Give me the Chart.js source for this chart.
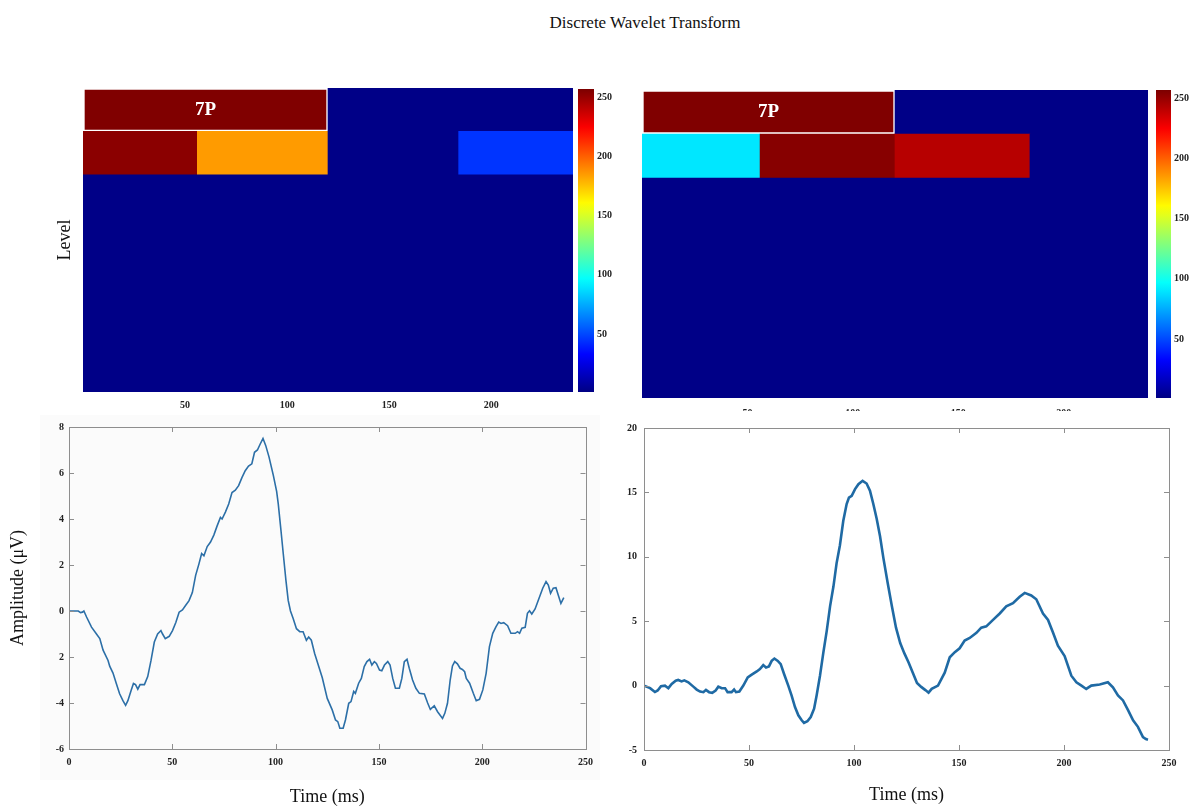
<!DOCTYPE html>
<html>
<head>
<meta charset="utf-8">
<title>Discrete Wavelet Transform</title>
<script src="https://cdn.jsdelivr.net/npm/chart.js@4.4.1/dist/chart.umd.min.js"></script>
<style>
  body { margin: 0; background: #fff; width: 1194px; height: 810px; position: relative; overflow: hidden; font-family: "Liberation Serif", "Times New Roman", serif; }
  canvas { position: absolute; }
  #title { position: absolute; left: 445px; width: 400px; top: 13px; text-align: center; font-size: 17px; color: #111; }
</style>
</head>
<body>
<div id="title">Discrete Wavelet Transform</div>
<canvas id="heatLeft" width="536" height="336" style="left:40px;top:80px"></canvas>
<canvas id="barLeft" width="44" height="336" style="left:576px;top:80px"></canvas>
<canvas id="heatRight" width="552" height="331" style="left:600px;top:80px"></canvas>
<canvas id="barRight" width="42" height="336" style="left:1152px;top:80px"></canvas>
<canvas id="waveLeft" width="600" height="395" style="left:0px;top:415px"></canvas>
<canvas id="waveRight" width="594" height="395" style="left:600px;top:415px"></canvas>
<script>
// scalogram cells (same layout for both panels), values on the 1..256 colour index
const levels = ['1', '2', '3', '4', '5', '6', '7'];
const cellLevel = ['1', '1', '2', '2', '2', '2', '3', '4', '5', '6', '7'];
const cellStart = [0, 120, 0, 56, 120, 184, 0, 0, 0, 0, 0];
const cellEnd = [120, 240, 56, 120, 184, 240, 240, 240, 240, 240, 240];
const leftValues = [256, 2, 253, 185, 2, 45, 2, 2, 2, 2, 2];
const rightValues = [256, 2, 90, 254, 242, 2, 2, 2, 2, 2, 2];
const peakLabel = '7P';
const timeTicks = [50, 100, 150, 200];
const colorTicks = [50, 100, 150, 200, 250];

// ERP waveforms
const leftTime = [0, 2, 4.5, 5.6, 6.5, 7.2, 8.5, 10.9, 13.3, 14.9, 16.5, 18.9, 19.7, 21.3, 22.9, 24.5, 26.1, 27.4, 28.5, 30.1,
  31.2, 32.2, 33.3, 34.4, 36.5, 38.1, 39.7, 41.3, 42.9, 44.5, 45.3, 46.6, 48.5, 50.1, 51.7, 53.3, 54.9, 56.5, 58.1, 59.7,
  61.3, 62.9, 64.2, 65.3, 66.9, 68.5, 70.1, 71.7, 73.3, 74.1, 75.7, 77.3, 78.9, 80.5, 82.1, 83.7, 85.3, 86.9, 88.5, 89.8,
  91.2, 92.5, 93.9, 95.2, 96.8, 98.9, 100.5, 101.3, 102.6, 103.7, 105, 106.1, 107.2, 108.5, 110.1, 111.7, 113.3, 114.9, 116, 117.3,
  118.9, 120.5, 122.6, 125, 127.4, 129, 130.1, 131.1, 132.7, 133.8, 135.4, 136.5, 137.8, 138.6, 140.2, 141.5, 142.9, 144.2, 145.5, 146.6,
  147.8, 148.8, 150.3, 151.4, 152.7, 154.3, 155.4, 156.7, 158, 159.9, 161.1, 162.3, 163.6, 164.7, 166.3, 167.9, 169.6, 172, 173.6, 174.9,
  176.8, 178.4, 180.8, 181.9, 183.2, 184.5, 185.6, 186.7, 188, 189.3, 190.4, 191.5, 192.3, 193.9, 195.7, 197.1, 198.7, 200.3, 201.9, 203.5,
  205.1, 206.7, 208, 209.1, 210.4, 212.3, 213.9, 216, 217.1, 218.1, 219.2, 220.8, 221.9, 222.9, 224, 225.6, 227.2, 229.3, 230.9, 232,
  233.1, 234.4, 235.7, 236.8, 238.1, 239.5];
const leftAmp = [0, 0, 0, -0.07, -0.05, 0, -0.26, -0.7, -1, -1.2, -1.7, -2.15, -2.4, -2.7, -3.15, -3.6, -3.9, -4.1, -3.9, -3.45,
  -3.15, -3.2, -3.4, -3.2, -3.2, -2.85, -2.15, -1.35, -1, -0.85, -1, -1.2, -1.1, -0.85, -0.5, -0.05, 0.05, 0.25, 0.45, 0.8,
  1.55, 2.05, 2.5, 2.4, 2.8, 3, 3.3, 3.7, 4.07, 4, 4.3, 4.65, 5.15, 5.25, 5.45, 5.8, 6.1, 6.3, 6.4, 6.9,
  7, 7.25, 7.5, 7.2, 6.7, 5.9, 5.2, 4.65, 3.5, 2.5, 1.33, 0.46, 0, -0.33, -0.77, -0.9, -0.9, -1.27, -1.13, -1.27,
  -1.85, -2.3, -2.9, -3.8, -4.3, -4.74, -4.81, -5.1, -5.1, -4.74, -4.01, -3.94, -3.5, -3.58, -3.14, -2.93, -2.42, -2.2, -2.1, -2.35,
  -2.2, -2.28, -2.57, -2.6, -2.35, -2.2, -2.35, -2.93, -3.36, -3.36, -2.93, -2.2, -2.1, -2.49, -3, -3.36, -3.58, -3.61, -4, -4.28,
  -4.12, -4.38, -4.67, -4.45, -4.01, -3, -2.39, -2.2, -2.3, -2.49, -2.54, -2.64, -2.93, -3.14, -3.58, -3.9, -3.84, -3.43, -2.71, -1.55,
  -0.97, -0.68, -0.48, -0.54, -0.51, -0.64, -0.97, -0.97, -0.9, -0.97, -0.75, -0.71, -0.1, 0.01, -0.13, 0.09, 0.48, 0.99, 1.28, 1.13,
  0.77, 0.99, 1.01, 0.7, 0.33, 0.58];
const rightTime = [0, 2.9, 5.2, 6.5, 8.1, 10, 11.6, 13.2, 15.1, 16.3, 17.9, 19.2, 21.1, 23.5, 25.1, 26.7, 28.3, 29.5, 31, 32.5,
  34.1, 35.4, 37, 38.6, 39.8, 41.7, 42.9, 43.8, 45.4, 47.3, 49.4, 51.3, 53.7, 55.2, 56.8, 58.1, 59.5, 60.8, 62.1, 63.7,
  65.1, 66.7, 68.7, 70.3, 71.9, 73.5, 75.1, 76.2, 77.8, 79.4, 81, 82.2, 83.8, 85.4, 87, 88.6, 90.2, 91.7, 93.3, 94.9,
  96.5, 97.6, 98.9, 100.5, 102.1, 104.1, 106, 107.6, 109.2, 110.8, 112.4, 114, 116, 118, 120, 122, 124, 126, 128, 130,
  132, 134, 135.5, 137, 140, 143.2, 145.6, 148, 150.3, 152.7, 155.1, 158.3, 160.6, 163, 166.2, 169.4, 172.5, 175.7, 178.9, 181.3,
  184.4, 186.8, 190, 192.4, 194.8, 197.1, 200.3, 203.5, 205.9, 208.3, 210.6, 213, 217, 220.9, 223.3, 225.7, 228.1, 230.5, 232.9, 235.2,
  237.6, 239, 240];
const rightAmp = [0, -0.2, -0.5, -0.38, -0.05, 0, -0.2, 0.13, 0.38, 0.44, 0.33, 0.41, 0.26, -0.08, -0.31, -0.46, -0.51, -0.33, -0.51, -0.56,
  -0.38, -0.08, -0.2, -0.2, -0.51, -0.51, -0.31, -0.51, -0.46, 0, 0.64, 0.85, 1.1, 1.28, 1.59, 1.41, 1.49, 1.92, 2.1, 1.92,
  1.67, 0.9, 0, -0.77, -1.67, -2.31, -2.69, -2.9, -2.77, -2.44, -1.79, -0.77, 0.77, 2.56, 4.23, 6.15, 7.69, 9.49, 10.9, 12.8,
  14.1, 14.6, 14.74, 15.26, 15.64, 15.9, 15.69, 15.13, 14.1, 12.95, 11.6, 9.9, 8, 6.2, 4.5, 3.3, 2.5, 1.8, 1, 0.2,
  -0.1, -0.35, -0.55, -0.25, 0, 1, 2.2, 2.6, 2.9, 3.5, 3.7, 4.1, 4.5, 4.6, 5.1, 5.6, 6.15, 6.4, 6.9, 7.2,
  7, 6.7, 5.6, 5.1, 4.1, 3.1, 2.3, 0.77, 0.26, 0, -0.26, 0, 0.08, 0.26, -0.13, -0.77, -1.15, -1.9, -2.7, -3.2,
  -4, -4.15, -4.2];
const timeAxisTicks = [0, 50, 100, 150, 200, 250];
const ampTicks = [-6, -4, -2, 0, 2, 4, 6, 8];
const ampTickLabels = ['-6', '-4', '2', '0', '2', '4', '6', '8'];
const rightAmpTicks = [-5, 0, 5, 10, 15, 20];

Chart.defaults.font.family = '"Liberation Serif", "Times New Roman", serif';
Chart.defaults.color = '#222';
Chart.defaults.animation = false;
Chart.defaults.plugins.legend.display = false;
Chart.defaults.plugins.tooltip.enabled = false;

const tickFont = { size: 10, weight: 'bold' };
const noGrid = { display: false, drawTicks: false };

// MATLAB jet colormap
function jet(v) {
  const t = v / 256;
  const c = x => Math.round(255 * Math.max(0, Math.min(1, 1.5 - Math.abs(x))));
  return 'rgb(' + c(4 * t - 3) + ',' + c(4 * t - 2) + ',' + c(4 * t - 1) + ')';
}

const cellText = {
  id: 'cellText',
  afterDatasetsDraw(chart) {
    const el = chart.getDatasetMeta(0).data[0];
    const p = el.getCenterPoint();
    const ctx = chart.ctx;
    ctx.save();
    ctx.fillStyle = '#fff';
    ctx.font = 'bold 19px "Liberation Serif", serif';
    ctx.textAlign = 'center';
    ctx.textBaseline = 'middle';
    ctx.fillText(peakLabel, p.x, p.y);
    ctx.restore();
  }
};

function heatmap(id, values, pad, yWidth, xHeight, labelPad, showLevel) {
  new Chart(document.getElementById(id), {
    type: 'bar',
    data: {
      labels: levels,
      datasets: [{
        data: cellLevel.map((lv, i) => ({ y: lv, x: [cellStart[i], cellEnd[i]] })),
        backgroundColor: values.map(jet),
        borderColor: '#fff',
        borderWidth: ctx => ctx.dataIndex === 0 ? 2 : 0,
        borderSkipped: false,
        barPercentage: 1,
        categoryPercentage: 1
      }]
    },
    options: {
      responsive: false,
      indexAxis: 'y',
      layout: { padding: pad },
      scales: {
        x: {
          type: 'linear', min: 0, max: 240,
          grid: noGrid, border: { display: false },
          ticks: { font: tickFont, padding: labelPad },
          afterBuildTicks: s => { s.ticks = timeTicks.map(v => ({ value: v })); },
          afterFit: s => { s.height = xHeight; }
        },
        y: {
          type: 'category',
          grid: noGrid, border: { display: false },
          ticks: { display: false },
          title: { display: showLevel, text: 'Level', font: { size: 18 }, color: '#111', padding: { top: 14 } },
          afterFit: s => { s.width = yWidth; }
        }
      }
    },
    plugins: [cellText]
  });
}

function colorbar(id, pad, yWidth) {
  new Chart(document.getElementById(id), {
    type: 'bar',
    data: {
      labels: ['c'],
      datasets: [{
        data: [[1, 257]],
        backgroundColor: ctx => {
          const a = ctx.chart.chartArea;
          if (!a) return jet(128);
          const g = ctx.chart.ctx.createLinearGradient(0, a.bottom, 0, a.top);
          for (let i = 0; i <= 32; i++) g.addColorStop(i / 32, jet(1 + 256 * i / 32));
          return g;
        },
        barPercentage: 1,
        categoryPercentage: 1
      }]
    },
    options: {
      responsive: false,
      layout: { padding: pad },
      scales: {
        x: { display: false },
        y: {
          position: 'right', min: 1, max: 257,
          grid: noGrid, border: { display: false },
          ticks: { font: { size: 10, weight: 'bold' }, padding: 3 },
          afterBuildTicks: s => { s.ticks = colorTicks.map(v => ({ value: v })); },
          afterFit: s => { s.width = yWidth; }
        }
      }
    }
  });
}

const boxTicks = {
  id: 'boxTicks',
  beforeDraw(chart, args, opts) {
    if (!opts.shade) return;
    const ctx = chart.ctx;
    ctx.save();
    ctx.fillStyle = '#fbfbfb';
    ctx.fillRect(40, 0, chart.width - 40, chart.height - 30);
    ctx.restore();
  },
  afterDraw(chart) {
    const { ctx, chartArea: a, scales: { x, y } } = chart;
    const len = 5;
    ctx.save();
    ctx.strokeStyle = '#8e8e8e';
    ctx.lineWidth = 1;
    ctx.beginPath();
    x.ticks.forEach(t => {
      const px = Math.round(x.getPixelForValue(t.value)) + 0.5;
      ctx.moveTo(px, a.bottom); ctx.lineTo(px, a.bottom - len);
      ctx.moveTo(px, a.top); ctx.lineTo(px, a.top + len);
    });
    y.ticks.forEach(t => {
      const py = Math.round(y.getPixelForValue(t.value)) + 0.5;
      ctx.moveTo(a.left, py); ctx.lineTo(a.left + len, py);
      ctx.moveTo(a.right, py); ctx.lineTo(a.right - len, py);
    });
    ctx.stroke();
    ctx.strokeRect(Math.round(a.left) + 0.5, Math.round(a.top) + 0.5, Math.round(a.width), Math.round(a.height));
    ctx.restore();
  }
};

function wave(id, time, amp, o) {
  new Chart(document.getElementById(id), {
    type: 'line',
    data: {
      datasets: [{
        data: time.map((t, i) => ({ x: t, y: amp[i] })),
        borderColor: o.color,
        borderWidth: o.width,
        pointRadius: 0,
        tension: 0,
        fill: false
      }]
    },
    options: {
      responsive: false,
      layout: { padding: o.pad },
      plugins: { boxTicks: { shade: o.shade } },
      scales: {
        x: {
          type: 'linear', min: 0, max: 250,
          grid: noGrid, border: { display: false },
          ticks: { font: tickFont, padding: 7, maxRotation: 0 },
          afterBuildTicks: s => { s.ticks = timeAxisTicks.map(v => ({ value: v })); },
          title: { display: true, text: 'Time (ms)', font: { size: 18 }, color: '#111', padding: { bottom: o.xTitlePad } },
          afterFit: s => { s.height = o.xHeight; }
        },
        y: {
          type: 'linear', min: o.yMin, max: o.yMax,
          grid: noGrid, border: { display: false },
          ticks: { font: tickFont, padding: o.yTickPad, callback: o.yLabel },
          afterBuildTicks: s => { s.ticks = o.yTicks.map(v => ({ value: v })); },
          title: { display: !!o.yTitle, text: o.yTitle || '', font: { size: 18 }, color: '#111', padding: { top: 7 } },
          afterFit: s => { s.width = o.yWidth; }
        }
      }
    },
    plugins: [boxTicks]
  });
}

heatmap('heatLeft', leftValues, { top: 8, right: 3 }, 43, 24, 7, true);
colorbar('barLeft', { left: 2, top: 8, bottom: 24 }, 26);
heatmap('heatRight', rightValues, { top: 10, right: 4 }, 42, 13, 9, false);
colorbar('barRight', { left: 4, top: 10, bottom: 18 }, 23);

wave('waveLeft', leftTime, leftAmp, {
  color: '#2c6fa7', width: 1.6, pad: { top: 12, right: 10 }, xHeight: 61, xTitlePad: 2, shade: true,
  yMin: -6, yMax: 8, yTicks: ampTicks, yLabel: (v, i) => ampTickLabels[i], yTickPad: 5, yWidth: 69,
  yTitle: 'Amplitude (\u03bcV)'
});
wave('waveRight', rightTime, rightAmp, {
  color: '#1f6aa4', width: 2.6, pad: { top: 12, right: 25 }, xHeight: 60, xTitlePad: 4, shade: false,
  yMin: -5, yMax: 20, yTicks: rightAmpTicks, yLabel: v => v, yTickPad: 7, yWidth: 44
});
</script>
</body>
</html>
